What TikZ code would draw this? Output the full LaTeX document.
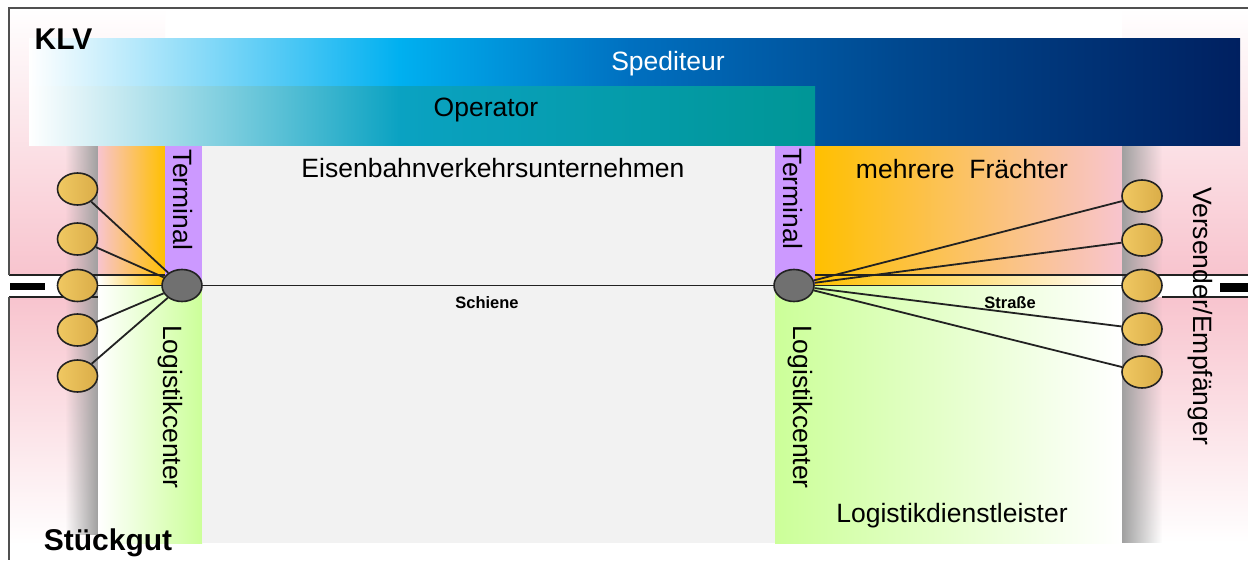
\documentclass[tikz,border=0pt]{standalone}
\usepackage{fontspec}
\setmainfont{Liberation Sans}
\usetikzlibrary{shapes.geometric,fadings}

% palette
\definecolor{sCyan}{HTML}{00B0F0}
\definecolor{sBlue}{HTML}{0070C0}
\definecolor{sMid}{HTML}{00488F}
\definecolor{sNavy}{HTML}{002060}
\definecolor{oCyan}{HTML}{0AA2C2}
\definecolor{oTeal}{HTML}{009696}
\definecolor{pinkBg}{HTML}{F8C4CE}
\definecolor{orangeC}{HTML}{FFC000}
\definecolor{paleYel}{HTML}{FFFFCC}
\definecolor{greenC}{HTML}{CCFF99}
\definecolor{purpleC}{HTML}{CC99FF}
\definecolor{midGray}{HTML}{F2F2F2}
\definecolor{colGray}{HTML}{A0A0A0}
\definecolor{lineDark}{HTML}{222222}
\definecolor{frameC}{HTML}{505050}
\definecolor{elLight}{HTML}{F0C862}
\definecolor{elDark}{HTML}{DAAD48}
\definecolor{hubGray}{HTML}{707070}

% long bars: stops placed in the 25bp..75bp band that maps onto the path
\pgfdeclarehorizontalshading{spedshade}{100bp}{color(0bp)=(white); color(25bp)=(white);
  color(40.3bp)=(sCyan); color(49.8bp)=(sBlue); color(61bp)=(sMid); color(75bp)=(sNavy); color(100bp)=(sNavy)}
\pgfdeclarehorizontalshading{opshade}{100bp}{color(0bp)=(white); color(25bp)=(white);
  color(48.6bp)=(oCyan); color(75bp)=(oTeal); color(100bp)=(oTeal)}

\tikzfading[name=clearleft, left color=transparent!100, right color=transparent!0]
\tikzfading[name=clearright, left color=transparent!0, right color=transparent!100]

\tikzset{
  party/.style={ellipse, draw=lineDark, line width=1.6pt, minimum width=40pt,
    minimum height=32pt, inner sep=0pt, left color=elLight, right color=elDark},
  hub/.style={ellipse, draw=lineDark, line width=1.6pt, fill=hubGray,
    minimum width=40pt, minimum height=32pt, inner sep=0pt},
  link/.style={draw=lineDark, line width=1.8pt},
  lbl/.style={font=\fontsize{26.5}{30}\selectfont, inner sep=0pt},
  vlbl/.style={lbl, rotate=-90},
  title/.style={font=\bfseries\fontsize{30}{34}\selectfont, inner sep=0pt},
  tiny/.style={font=\bfseries\fontsize{16.5}{18}\selectfont, inner sep=0pt},
  frame/.style={draw=frameC, line width=1.5pt},
  roadline/.style={draw=lineDark, line width=1.4pt}
}

\begin{document}
\begin{tikzpicture}[x=1pt,y=-1pt]
\useasboundingbox (0,0) rectangle (1248,560);
\fill[white] (0,0) rectangle (1248,560);

% pink side zones
\shade[top color=white, bottom color=pinkBg] (9,8) rectangle (165,275);
\shade[top color=pinkBg, bottom color=white] (9,297) rectangle (98,545);
\shade[top color=white, bottom color=pinkBg] (1122,8) rectangle (1248,275);
\shade[top color=pinkBg, bottom color=white] (1122,297) rectangle (1248,543);

% carriers and logistics zones
\shade[left color=pinkBg, right color=orangeC] (98,145) rectangle (165,275);
\shade[left color=white, right color=orangeC] (98,275) rectangle (165,286);
\shade[left color=white, middle color=paleYel, right color=greenC] (98,286) rectangle (202,543);
\fill[midGray] (202,145) rectangle (775,543);
\shade[left color=orangeC, right color=pinkBg] (815,145) rectangle (1122,275);
\shade[left color=orangeC, right color=white] (815,275) rectangle (1122,286);
\shade[left color=greenC, middle color=paleYel, right color=white] (775,286) rectangle (1122,543);

% terminals
\fill[purpleC] (165,145) rectangle (202,286);
\fill[purpleC] (775,145) rectangle (815,286);

% shipper columns
\fill[colGray, path fading=clearleft] (65,145) rectangle (98,535);
\fill[colGray, path fading=clearright] (1122,143) rectangle (1162,543);

% road band with lane marks
\fill[white] (9,275) rectangle (65,297);
\fill[white] (1162,275) rectangle (1248,297);
\draw[roadline] (9,275) -- (165,275);
\draw[roadline] (9,297) -- (98,297);
\draw[roadline] (815,275) -- (1248,275);
\draw[roadline] (1162,297) -- (1248,297);
\fill[black] (10,283) rectangle (45,290);
\fill[black] (1220,283) rectangle (1248,292);

% outer frame
\draw[frame] (9,275) -- (9,8) -- (1248,8);
\draw[frame] (9,297) -- (9,560);

% role bars
\shade[shading=spedshade] (29,38) rectangle (1240,145);
\shade[shading=opshade] (29,86) rectangle (815,145);

% texts
\node[title] (klv) at (63.5,39) {KLV};
\node[title] (stueck) at (108,542.5) {Stückgut};
\node[lbl, text=white] (sped) at (668,64) {Spediteur};
\node[lbl] (oper) at (486,110) {Operator};
\node[lbl] (evu) at (493,168) {Eisenbahnverkehrsunternehmen};
\node[lbl] (fr) at (962,169) {mehrere\ \ Frächter};
\node[lbl] (ld) at (952,516) {Logistikdienstleister};
\node[vlbl] (termL) at (183,200) {Terminal};
\node[vlbl] (termR) at (793,199) {Terminal};
\node[vlbl] (lcL) at (170,407) {Logistikcenter};
\node[vlbl] (lcR) at (800,407) {Logistikcenter};
\node[vlbl] (ve) at (1200,316) {Versender/Empfänger};

% hubs and shippers / receivers
\node[hub] (HL) at (182,285.5) {};
\node[hub] (HR) at (794,285.5) {};
\node[party] (L1) at (77.5,189) {};
\node[party] (L2) at (77.5,239) {};
\node[party] (L3) at (77.5,285.5) {};
\node[party] (L4) at (77.5,330) {};
\node[party] (L5) at (77.5,376) {};
\node[party] (R1) at (1142,196) {};
\node[party] (R2) at (1142,240) {};
\node[party] (R3) at (1142,285.5) {};
\node[party] (R4) at (1142,329) {};
\node[party] (R5) at (1142,372) {};

% connections
\foreach \n in {L1,L2,L3,L4,L5} \draw[link] (\n) -- (HL);
\foreach \n in {R1,R2,R3,R4,R5} \draw[link] (HR) -- (\n);
\draw[link] (HL) -- (HR);
\node[tiny] (rail) at (487,302.5) {Schiene};
\node[tiny] (road) at (1010,302.5) {Straße};
\end{tikzpicture}
\end{document}
